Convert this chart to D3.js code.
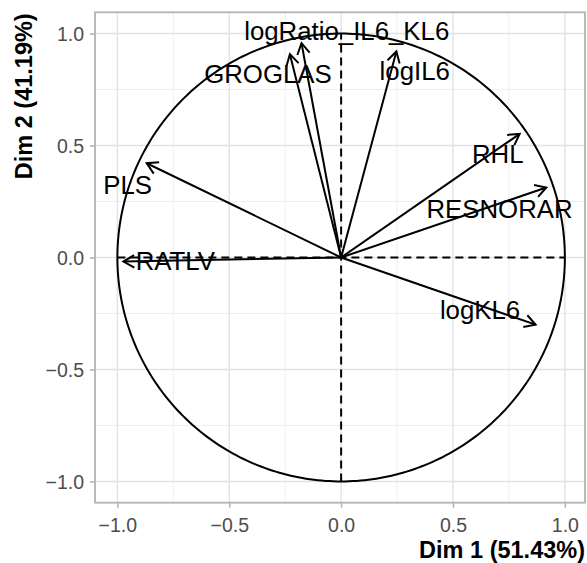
<!DOCTYPE html>
<html>
<head>
<meta charset="utf-8">
<script src="https://cdn.jsdelivr.net/npm/d3@7"></script>
<style>
  html, body { margin: 0; padding: 0; background: #ffffff; }
  svg { display: block; }
  text { font-family: "Liberation Sans", Arial, Helvetica, sans-serif; }
</style>
</head>
<body>
<svg id="chart" width="587" height="563"></svg>
<script>
// ---- data ----
const variables = ["logRatio_IL6_KL6", "GROGLAS", "logIL6", "RHL", "RESNORAR", "logKL6", "RATLV", "PLS"];
const dim1 = [-0.177, -0.229, 0.247, 0.798, 0.917, 0.869, -0.973, -0.869];
const dim2 = [0.957, 0.908, 0.920, 0.552, 0.3125, -0.300, -0.018, 0.421];
const labelX = [0.025, -0.327, 0.329, 0.700, 0.708, 0.621, -0.741, -0.954];
const labelY = [1.012, 0.820, 0.834, 0.463, 0.217, -0.233, -0.015, 0.325];
const xTicks = [-1.0, -0.5, 0.0, 0.5, 1.0];
const yTicks = [-1.0, -0.5, 0.0, 0.5, 1.0];
const minorTicks = [-0.75, -0.25, 0.25, 0.75];
const xTitle = "Dim 1 (51.43%)";
const yTitle = "Dim 2 (41.19%)";

// ---- layout ----
const panel = { left: 95, right: 585, top: 12.3, bottom: 502.7 };
const svg = d3.select("#chart");
const x = d3.scaleLinear().domain([-1.1, 1.09]).range([panel.left, panel.right]);
const y = d3.scaleLinear().domain([-1.095, 1.095]).range([panel.bottom, panel.top]);
const fmt = v => d3.format(".1f")(v).replace("-", "\u2212");
const lw = 2.0;

// grid
const grid = svg.append("g");
grid.selectAll("line.minorx").data(minorTicks).join("line")
  .attr("x1", d => x(d)).attr("x2", d => x(d))
  .attr("y1", panel.top).attr("y2", panel.bottom)
  .attr("stroke", "#EEEEEE").attr("stroke-width", 1);
grid.selectAll("line.minory").data(minorTicks).join("line")
  .attr("y1", d => y(d)).attr("y2", d => y(d))
  .attr("x1", panel.left).attr("x2", panel.right)
  .attr("stroke", "#EEEEEE").attr("stroke-width", 1);
grid.selectAll("line.majorx").data(xTicks).join("line")
  .attr("x1", d => x(d)).attr("x2", d => x(d))
  .attr("y1", panel.top).attr("y2", panel.bottom)
  .attr("stroke", "#E3E3E3").attr("stroke-width", 1.4);
grid.selectAll("line.majory").data(yTicks).join("line")
  .attr("y1", d => y(d)).attr("y2", d => y(d))
  .attr("x1", panel.left).attr("x2", panel.right)
  .attr("stroke", "#E3E3E3").attr("stroke-width", 1.4);

// axes
const xAxis = d3.axisBottom(x).tickValues(xTicks).tickFormat(fmt).tickSize(5).tickPadding(6);
const yAxis = d3.axisLeft(y).tickValues(yTicks).tickFormat(fmt).tickSize(5).tickPadding(6);
const gx = svg.append("g").attr("transform", `translate(0,${panel.bottom})`).call(xAxis);
const gy = svg.append("g").attr("transform", `translate(${panel.left},0)`).call(yAxis);
[gx, gy].forEach(g => {
  g.select(".domain").remove();
  g.selectAll(".tick line").attr("stroke", "#B3B3B3").attr("stroke-width", 1.6);
  g.selectAll(".tick text").attr("fill", "#4D4D4D").style("font-size", "19.5px")
    .style("font-family", '"Liberation Sans", Arial, sans-serif');
});
gx.selectAll(".tick text").attr("dy", "0.93em");
gy.selectAll(".tick text").attr("dy", "0.36em");

// panel border
svg.append("rect")
  .attr("x", panel.left).attr("y", panel.top)
  .attr("width", panel.right - panel.left).attr("height", panel.bottom - panel.top)
  .attr("fill", "none").attr("stroke", "#B3B3B3").attr("stroke-width", 1.8);

// unit circle
const circ = d3.range(0, 361, 1).map(a => [Math.cos(a * Math.PI / 180), Math.sin(a * Math.PI / 180)]);
svg.append("path")
  .attr("d", d3.line().x(d => x(d[0])).y(d => y(d[1]))(circ))
  .attr("fill", "none").attr("stroke", "#000").attr("stroke-width", lw);

// dashed axes
svg.append("line").attr("x1", x(-1)).attr("x2", x(1)).attr("y1", y(0)).attr("y2", y(0))
  .attr("stroke", "#000").attr("stroke-width", lw).attr("stroke-dasharray", "8,5");
svg.append("line").attr("x1", x(0)).attr("x2", x(0)).attr("y1", y(-1)).attr("y2", y(1))
  .attr("stroke", "#000").attr("stroke-width", lw).attr("stroke-dasharray", "8,5");

// arrows
const headLen = 12.5, headAng = Math.PI / 6;
const arrows = svg.append("g");
variables.forEach((v, i) => {
  const x0 = x(0), y0 = y(0), x1 = x(dim1[i]), y1 = y(dim2[i]);
  const ang = Math.atan2(y1 - y0, x1 - x0);
  arrows.append("line").attr("x1", x0).attr("y1", y0).attr("x2", x1).attr("y2", y1)
    .attr("stroke", "#000").attr("stroke-width", lw);
  const p1 = [x1 - headLen * Math.cos(ang - headAng), y1 - headLen * Math.sin(ang - headAng)];
  const p2 = [x1 - headLen * Math.cos(ang + headAng), y1 - headLen * Math.sin(ang + headAng)];
  arrows.append("path")
    .attr("d", `M${p1[0]},${p1[1]}L${x1},${y1}L${p2[0]},${p2[1]}`)
    .attr("fill", "none").attr("stroke", "#000").attr("stroke-width", lw)
    .attr("stroke-linejoin", "miter");
});

// labels
svg.append("g").selectAll("text").data(variables).join("text")
  .attr("x", (d, i) => x(labelX[i])).attr("y", (d, i) => y(labelY[i]))
  .attr("dy", "0.36em").attr("text-anchor", "middle")
  .attr("fill", "#000").style("font-size", "25.8px")
  .text(d => d);

// axis titles
svg.append("text").attr("x", panel.right).attr("y", 558)
  .attr("text-anchor", "end").attr("font-weight", "bold").style("font-size", "23.5px")
  .attr("fill", "#000").text(xTitle);
svg.append("text").attr("transform", `translate(32,${panel.top + 1}) rotate(-90)`)
  .attr("text-anchor", "end").attr("font-weight", "bold").style("font-size", "23.5px")
  .attr("fill", "#000").text(yTitle);
</script>
</body>
</html>
